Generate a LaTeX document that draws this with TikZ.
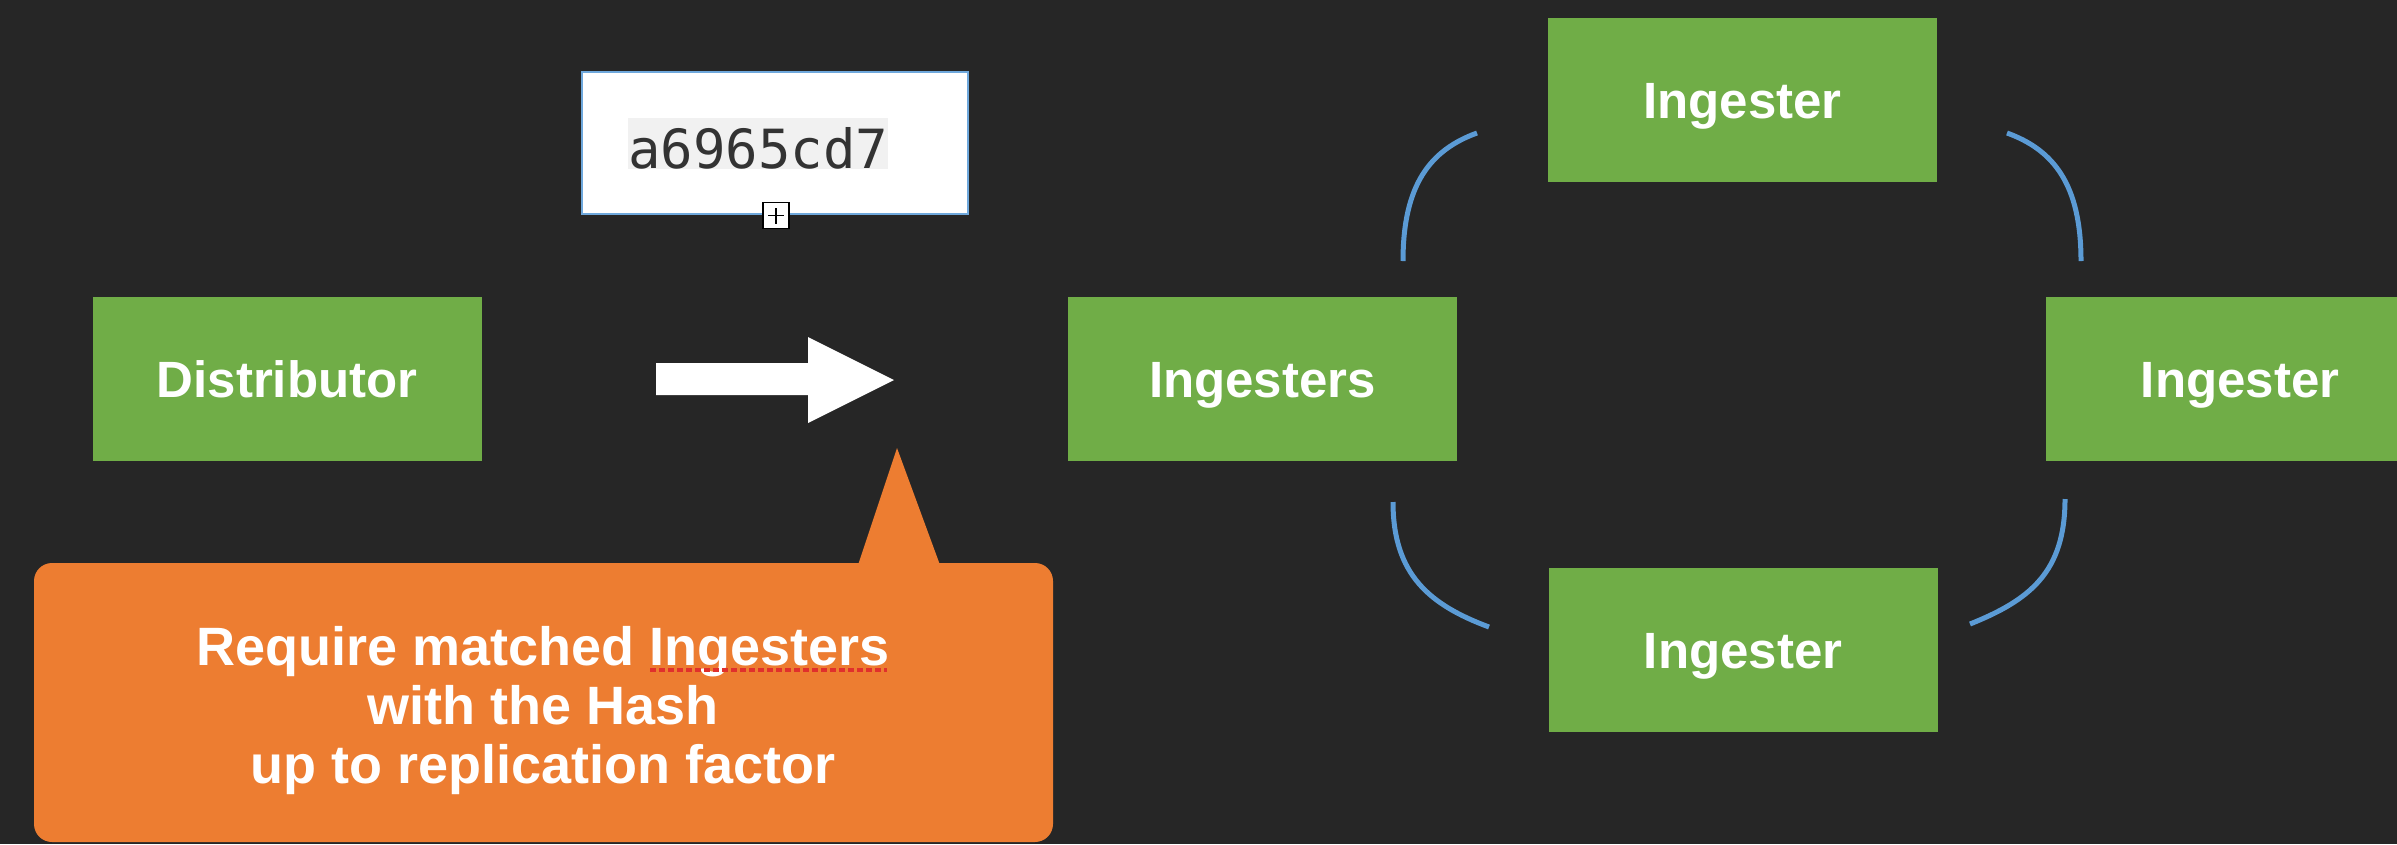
\documentclass[tikz,border=0pt]{standalone}
\usepackage{fontspec}
\setmainfont{Liberation Sans}
\newfontfamily\hashfont{DejaVu Sans Mono}
\definecolor{bg}{HTML}{262626}
\definecolor{boxgreen}{HTML}{70AD47}
\definecolor{calloutorange}{HTML}{ED7D31}
\definecolor{ringblue}{HTML}{5B9BD5}
\definecolor{hashborder}{HTML}{6FA8DC}
\definecolor{hashink}{HTML}{333333}
\definecolor{hashhl}{HTML}{F1F1F1}
\definecolor{spellred}{HTML}{E0302C}
\begin{document}
\begin{tikzpicture}[x=1pt,y=-1pt,
  greenbox/.style={rectangle, fill=boxgreen, minimum width=389pt, minimum height=164pt,
    inner sep=0pt, text=white, font=\fontsize{51}{60}\selectfont\bfseries,
    text height=37pt, text depth=0pt},
  ringarc/.style={draw=ringblue, line width=5pt},
  callouttext/.style={text=white, font=\fontsize{54}{59}\selectfont\bfseries, align=center, inner sep=0pt}
]
\clip (0,0) rectangle (2397,844);
\fill[bg] (0,0) rectangle (2397,844);

% callout shape
\fill[calloutorange, rounded corners=18pt] (34,563) rectangle (1053,842);
\fill[calloutorange] (858,565) -- (897,448) -- (940,565) -- cycle;
\node[callouttext] (callout) at (543,711) {Require matched Ingesters\\with the Hash\\up to replication factor};
\coordinate (spellA) at (650,670);
\coordinate (spellB) at (887,670);
\draw[spellred, line width=3.5pt, dash pattern=on 6pt off 3pt] (spellA) -- (spellB);

% green boxes
\node[greenbox] (dist) at (287,379) {Distributor};
\node[greenbox] (ingesters) at (1262.5,379) {Ingesters};
\node[greenbox] (ingtop) at (1742.5,100) {Ingester};
\node[greenbox] (ingright) at (2240,379) {Ingester};
\node[greenbox] (ingbottom) at (1743,650) {Ingester};

% hash box
\node[draw=hashborder, line width=2.5pt, fill=white, minimum width=386pt, minimum height=142pt, inner sep=0pt] (hashbox) at (775,143) {};
\node[anchor=base west, inner sep=0pt, fill=hashhl, text=hashink,
  font=\hashfont\fontsize{54}{60}\selectfont, text height=50pt, text depth=1pt] (hash) at (628,168) {a6965cd7};
\node[draw=black, fill=white, line width=1.5pt, minimum size=26pt, inner sep=0pt] (handle) at (776,215.5) {};
\draw[line width=1.5pt] ([xshift=-8pt]handle.center) -- ([xshift=8pt]handle.center);
\draw[line width=1.5pt] ([yshift=-8pt]handle.center) -- ([yshift=8pt]handle.center);

% white arrow
\fill[white] (656,363) -- (808,363) -- (808,337) -- (894,380) -- (808,423) -- (808,395) -- (656,395) -- cycle;

% ring arcs
\coordinate (tlA) at (1403,261); \coordinate (tlB) at (1477,133);
\coordinate (trA) at (2081,261); \coordinate (trB) at (2007,133);
\coordinate (blA) at (1393,502); \coordinate (blB) at (1489,627);
\coordinate (brA) at (2065,499); \coordinate (brB) at (1970,624);
\draw[ringarc] (tlA) .. controls (1403,185) and (1430,150) .. (tlB);
\draw[ringarc] (trA) .. controls (2081,185) and (2054,150) .. (trB);
\draw[ringarc] (blA) .. controls (1393,575) and (1430,605) .. (blB);
\draw[ringarc] (brA) .. controls (2065,572) and (2030,600) .. (brB);
\end{tikzpicture}
\end{document}
